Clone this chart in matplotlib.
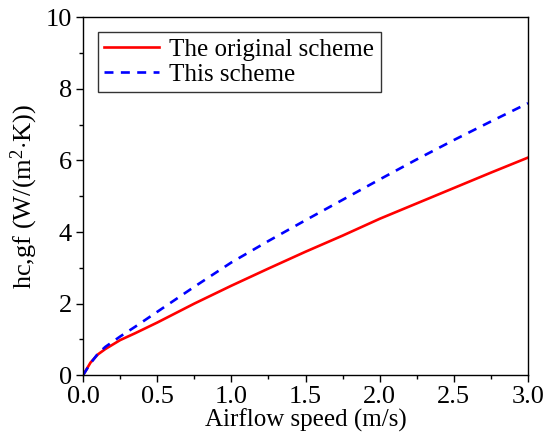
import matplotlib
matplotlib.use('Agg')
import matplotlib.pyplot as plt
from matplotlib.ticker import MultipleLocator

plt.rcParams['font.family'] = 'serif'
plt.rcParams['font.serif'] = ['Liberation Serif', 'Times New Roman', 'DejaVu Serif']
plt.rcParams['mathtext.fontset'] = 'custom'
plt.rcParams['mathtext.rm'] = 'Liberation Serif'
plt.rcParams['mathtext.it'] = 'Liberation Serif:italic'

# airflow speed (m/s)
speed = [0, 0.05, 0.1, 0.15, 0.25, 0.35, 0.5, 0.75, 1.0, 1.25, 1.5, 1.75, 2.0, 2.25, 2.5, 2.75, 3.0]
# heat transfer coefficient, original scheme
hc_original = [0, 0.35, 0.58, 0.73, 0.98, 1.17, 1.47, 2.0, 2.5, 2.98, 3.45, 3.9, 4.37, 4.8, 5.23, 5.66, 6.08]
# heat transfer coefficient, this scheme
hc_this = [0, 0.33, 0.6, 0.79, 1.08, 1.35, 1.77, 2.47, 3.15, 3.75, 4.33, 4.9, 5.47, 6.03, 6.57, 7.09, 7.6]

fig = plt.figure(figsize=(5.5, 4.44), dpi=100)
ax = fig.add_axes([0.151, 0.155, 0.809, 0.806])

ax.plot(speed, hc_original, color='#ff0000', lw=1.9, label='The original scheme')
ax.plot(speed, hc_this, color='#0000ff', lw=1.9, dashes=(3.4, 2.8), label='This scheme')

ax.set_xlim(0, 3)
ax.set_ylim(0, 10)
ax.xaxis.set_major_locator(MultipleLocator(0.5))
ax.xaxis.set_minor_locator(MultipleLocator(0.25))
ax.yaxis.set_major_locator(MultipleLocator(2))
ax.yaxis.set_minor_locator(MultipleLocator(1))
ax.set_xticks([0, 0.5, 1.0, 1.5, 2.0, 2.5, 3.0], ['0.0', '0.5', '1.0', '1.5', '2.0', '2.5', '3.0'])
ax.tick_params(which='major', direction='out', length=5, width=1, labelsize=19, pad=3)
ax.tick_params(which='minor', direction='out', length=3, width=1)
for s in ax.spines.values():
    s.set_linewidth(1)

ax.set_xlabel('Airflow speed (m/s)', fontsize=18, labelpad=0)
ax.set_ylabel(r'hc,gf (W/(m$^2$$\cdot$K))', fontsize=19, labelpad=4)

leg = ax.legend(loc='upper left', fontsize=18, frameon=True, fancybox=False,
                edgecolor='black', handlelength=2.2, borderpad=0.25,
                labelspacing=0.1, handletextpad=0.4, borderaxespad=0.6)
leg.get_frame().set_linewidth(1)

fig.savefig('out.png', dpi=100)
